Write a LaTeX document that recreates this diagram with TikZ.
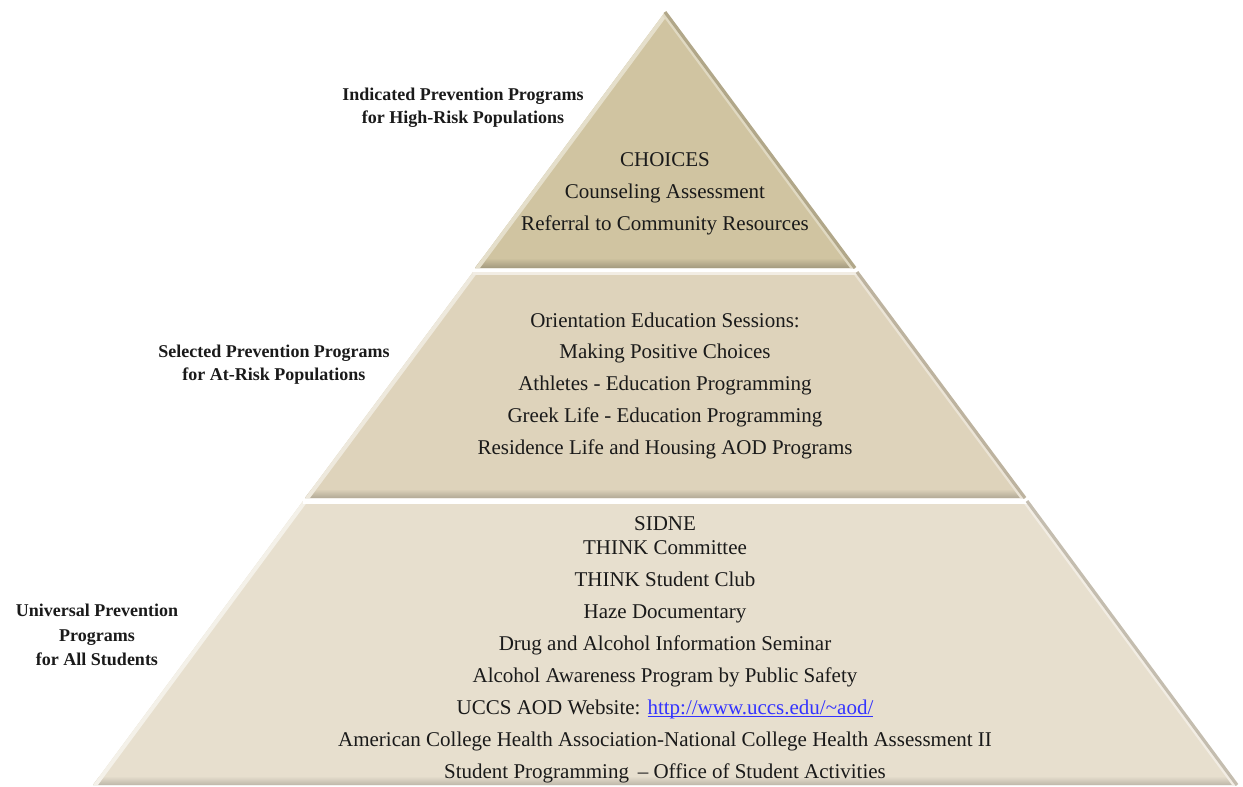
\documentclass[tikz,border=0pt]{standalone}
\usepackage{fontspec}
\setmainfont{Liberation Serif}
\usetikzlibrary{positioning,calc}
\definecolor{tierA}{RGB}{208,196,161}
\definecolor{tierB}{RGB}{222,211,187}
\definecolor{tierC}{RGB}{231,223,206}
\definecolor{txtgray}{RGB}{26,26,26}
\definecolor{linkblue}{RGB}{51,51,255}
\tikzset{
  bodytxt/.style={anchor=base,text=txtgray,font=\fontsize{10.5pt}{12pt}\selectfont,inner sep=0pt},
  lbltxt/.style={anchor=base,text=txtgray,font=\fontsize{9pt}{11pt}\selectfont\bfseries,inner sep=0pt},
  rim/.style={line width=1.6pt,line join=round}
}
\begin{document}
\begin{tikzpicture}[x=0.5pt,y=-0.5pt]
  \useasboundingbox (0,0) rectangle (1243,787);
  % tiers of the pyramid
  \fill[tierA] (665,12) -- (855,268) -- (475,268) -- cycle;
  \begin{scope}
    \clip (665,12) -- (855,268) -- (475,268) -- cycle;
    \shade[top color=tierA,bottom color=tierA!78!black] (400,258) rectangle (900,268);
    \draw[white!45!tierA,line width=4pt] (665,12) -- (475,268);
    \draw[white!35!tierA,line width=4pt] (665,12) -- (855,268);
  \end{scope}
  \draw[rim,tierA!85!black] (665,12) -- (855,268);

  \fill[tierB] (473,272) -- (857,272) -- (1025,498) -- (305,498) -- cycle;
  \begin{scope}
    \clip (473,272) -- (857,272) -- (1025,498) -- (305,498) -- cycle;
    \shade[top color=tierB,bottom color=tierB!80!black] (300,489) rectangle (1030,498);
    \draw[white!50!tierB,line width=4pt] (473,272) -- (305,498);
    \draw[white!40!tierB,line width=4pt] (857,272) -- (1025,498);
    \draw[white!60!tierB,line width=2pt] (473,273) -- (857,273);
  \end{scope}
  \draw[rim,tierB!85!black] (857,272) -- (1025,498);

  \fill[tierC] (303,501) -- (1027,501) -- (1237,785) -- (93,785) -- cycle;
  \begin{scope}
    \clip (303,501) -- (1027,501) -- (1237,785) -- (93,785) -- cycle;
    \shade[top color=tierC,bottom color=tierC!82!black] (90,776) rectangle (1240,785);
    \draw[white!55!tierC,line width=4pt] (303,501) -- (93,785);
    \draw[white!45!tierC,line width=4pt] (1027,501) -- (1237,785);
    \draw[white,line width=2pt] (303,502) -- (1027,502);
  \end{scope}
  \draw[rim,tierC!85!black] (1027,501) -- (1237,785);

  % side labels
  \node[lbltxt] (ind1) at (463,100) {Indicated Prevention Programs};
  \node[lbltxt] (ind2) at (463,123) {for High-Risk Populations};
  \node[lbltxt] (sel1) at (274,357) {Selected Prevention Programs};
  \node[lbltxt] (sel2) at (274,380) {for At-Risk Populations};
  \node[lbltxt] (uni1) at (97,616) {Universal Prevention};
  \node[lbltxt] (uni2) at (97,641) {Programs};
  \node[lbltxt] (uni3) at (97,665) {for All Students};

  % top tier
  \node[bodytxt] (a1) at (665,166) {CHOICES};
  \node[bodytxt] (a2) at (665,198) {Counseling Assessment};
  \node[bodytxt] (a3) at (665,230) {Referral to Community Resources};

  % middle tier
  \node[bodytxt] (b1) at (665,327) {Orientation Education Sessions:};
  \node[bodytxt] (b2) at (665,358) {Making Positive Choices};
  \node[bodytxt] (b3) at (665,390) {Athletes - Education Programming};
  \node[bodytxt] (b4) at (665,422) {Greek Life - Education Programming};
  \node[bodytxt] (b5) at (665,454) {Residence Life and Housing AOD Programs};

  % bottom tier
  \node[bodytxt] (c1) at (665,530) {SIDNE};
  \node[bodytxt] (c2) at (665,554) {THINK Committee};
  \node[bodytxt] (c3) at (665,586) {THINK Student Club};
  \node[bodytxt] (c4) at (665,618) {Haze Documentary};
  \node[bodytxt] (c5) at (665,650) {Drug and Alcohol Information Seminar};
  \node[bodytxt] (c6) at (665,682) {Alcohol Awareness Program by Public Safety};
  \node[bodytxt] (c7) at (665,714) {UCCS AOD Website: {\color{linkblue}\underline{\smash{http://www.uccs.edu/\textasciitilde aod/}}}};
  \node[bodytxt] (c8) at (665,746) {American College Health Association-National College Health Assessment II};
  \node[bodytxt] (c9) at (665,778) {Student Programming \,-- Office of Student Activities};
\end{tikzpicture}
\end{document}
